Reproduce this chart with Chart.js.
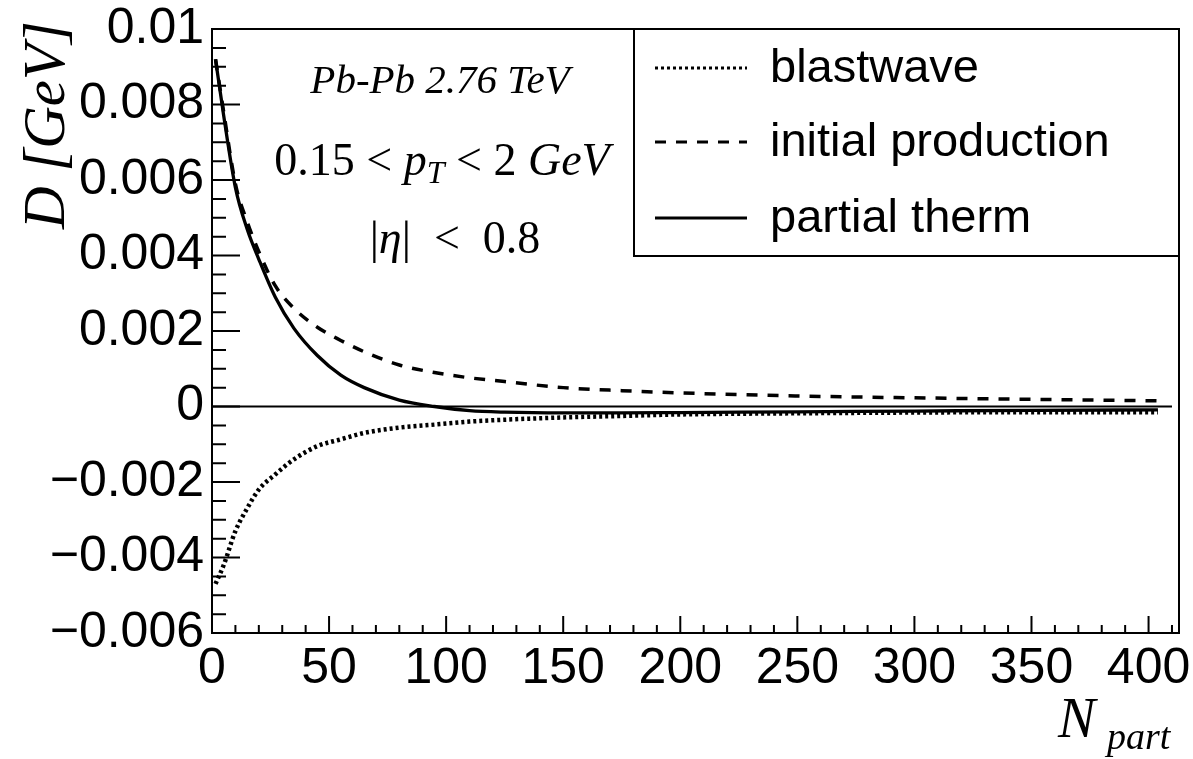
<!DOCTYPE html>
<html>
<head>
<meta charset="utf-8">
<script src="https://cdn.jsdelivr.net/npm/chart.js@4.4.1/dist/chart.umd.min.js"></script>
<style>
  html, body { margin: 0; padding: 0; background: #fff; }
</style>
</head>
<body>
<canvas id="chart" width="1193" height="759"></canvas>
<script>
// values
const npart = [1.5, 5, 10, 15, 20, 27, 35, 45, 55, 65, 80, 95, 110, 125, 150, 175, 200, 250, 300, 350, 404]
const blastwave = [-0.0047, -0.0042, -0.0033, -0.0027, -0.0022, -0.0018, -0.0014, -0.00105, -0.00087, -0.0007, -0.00056, -0.00048, -0.0004, -0.00035, -0.00029, -0.00025, -0.00021, -0.00018, -0.00016, -0.00015, -0.00015]
const initialProduction = [0.0092, 0.0078, 0.0059, 0.0049, 0.0041, 0.0032, 0.0026, 0.0021, 0.00175, 0.00145, 0.0011, 0.0009, 0.00076, 0.00066, 0.0005, 0.00042, 0.00036, 0.00028, 0.00023, 0.00019, 0.00015]
const partialTherm = [0.0092, 0.0077, 0.0058, 0.0047, 0.0039, 0.0029, 0.00207, 0.00135, 0.00083, 0.0005, 0.00017, 0.0, -0.00011, -0.00015, -0.00017, -0.00017, -0.00016, -0.00014, -0.00012, -0.0001, -0.00009]
const zeroLineX = [0, 410]
const zeroLineY = [0, 0]

const xTicks = [0, 50, 100, 150, 200, 250, 300, 350, 400]
const yTicks = [-0.006, -0.004, -0.002, 0, 0.002, 0.004, 0.006, 0.008, 0.01]
const legendLabels = ['blastwave', 'initial production', 'partial therm']

const toPoints = (xs, ys) => xs.map((x, i) => ({ x: x, y: ys[i] }))

// ROOT style: frame on all sides, ticks pointing inwards, legend box, latex texts
const rootDecor = {
  id: 'rootDecor',
  afterDatasetsDraw(chart) {
    const { ctx, chartArea: a, scales: { x, y } } = chart
    ctx.save()
    ctx.strokeStyle = '#000'
    ctx.fillStyle = '#000'
    ctx.lineWidth = 2
    ctx.strokeRect(a.left, a.top, a.right - a.left, a.bottom - a.top)

    ctx.beginPath()
    for (let v = 0; v <= 410; v += 10) {
      const px = x.getPixelForValue(v)
      const len = v % 50 === 0 ? 17 : 8
      ctx.moveTo(px, a.bottom)
      ctx.lineTo(px, a.bottom - len)
    }
    for (let i = -12; i <= 20; i++) {
      const py = y.getPixelForValue(i * 0.0005)
      const len = i % 4 === 0 ? 28 : 14
      ctx.moveTo(a.left, py)
      ctx.lineTo(a.left + len, py)
    }
    ctx.stroke()

    // legend
    const lx = 634, ly = a.top, lw = a.right - 634, lh = 227
    ctx.fillStyle = '#fff'
    ctx.fillRect(lx, ly, lw, lh)
    ctx.strokeRect(lx, ly, lw, lh)
    const rows = [68, 142, 218]
    const sets = chart.data.datasets.slice(1)
    ctx.font = '47px "Liberation Sans", Arial, sans-serif'
    ctx.textBaseline = 'middle'
    ctx.textAlign = 'left'
    sets.forEach((ds, i) => {
      ctx.save()
      ctx.lineWidth = ds.legendWidth
      ctx.setLineDash(ds.borderDash || [])
      ctx.beginPath()
      ctx.moveTo(655, rows[i])
      ctx.lineTo(747, rows[i])
      ctx.stroke()
      ctx.restore()
      ctx.fillStyle = '#000'
      ctx.fillText(ds.label, 770, rows[i] + 1)
    })

    // annotations
    ctx.fillStyle = '#000'
    ctx.textBaseline = 'alphabetic'
    ctx.textAlign = 'center'
    ctx.font = 'italic 41px "Liberation Serif", "Times New Roman", serif'
    ctx.fillText('Pb-Pb 2.76 TeV', 440, 93)

    const serif = '"Liberation Serif", "Times New Roman", serif'
    const drawPieces = (pieces, cx, base) => {
      let w = 0
      pieces.forEach(p => { ctx.font = p.f; w += ctx.measureText(p.t).width })
      let px = cx - w / 2
      ctx.textAlign = 'left'
      pieces.forEach(p => {
        ctx.font = p.f
        ctx.fillText(p.t, px, base + (p.dy || 0))
        px += ctx.measureText(p.t).width
      })
    }
    drawPieces([
      { t: '0.15 < ', f: '46px ' + serif },
      { t: 'p', f: 'italic 46px ' + serif },
      { t: 'T', f: 'italic 32px ' + serif, dy: 8 },
      { t: ' < 2 ', f: '46px ' + serif },
      { t: 'GeV', f: 'italic 46px ' + serif }
    ], 442, 175)
    drawPieces([
      { t: '|', f: '46px ' + serif },
      { t: '\u03b7', f: 'italic 46px ' + serif },
      { t: '|  <  0.8', f: '46px ' + serif }
    ], 455, 253)

    // axis titles
    ctx.textAlign = 'left'
    ctx.font = 'italic 56px ' + serif
    ctx.fillText('N', 1058, 737)
    ctx.font = 'italic 38px ' + serif
    ctx.fillText('part', 1107, 749)

    ctx.translate(64, 125)
    ctx.rotate(-Math.PI / 2)
    ctx.textAlign = 'center'
    ctx.font = 'italic 59px ' + serif
    ctx.fillText('D [GeV]', 0, 0)
    ctx.restore()
  }
}

const tickFont = { family: '"Liberation Sans", Arial, sans-serif', size: 50, lineHeight: 1 }

new Chart(document.getElementById('chart'), {
  type: 'line',
  data: {
    datasets: [
      { label: 'zero', data: toPoints(zeroLineX, zeroLineY), borderColor: '#000', borderWidth: 2, pointRadius: 0, tension: 0 },
      { label: legendLabels[0], data: toPoints(npart, blastwave), borderColor: '#000', borderWidth: 4.5, borderDash: [3, 3], legendWidth: 3, pointRadius: 0, cubicInterpolationMode: 'monotone' },
      { label: legendLabels[1], data: toPoints(npart, initialProduction), borderColor: '#000', borderWidth: 3.5, borderDash: [11, 10], legendWidth: 3, pointRadius: 0, cubicInterpolationMode: 'monotone' },
      { label: legendLabels[2], data: toPoints(npart, partialTherm), borderColor: '#000', borderWidth: 3.3, legendWidth: 3, pointRadius: 0, cubicInterpolationMode: 'monotone' }
    ]
  },
  options: {
    responsive: false,
    animation: false,
    devicePixelRatio: 1,
    layout: { padding: { top: 29, right: 14, left: 0, bottom: 0 } },
    plugins: { legend: { display: false }, tooltip: { enabled: false } },
    scales: {
      x: {
        type: 'linear', min: 0, max: 413,
        afterBuildTicks: s => { s.ticks = xTicks.map(v => ({ value: v })) },
        afterFit: s => { s.height = 126; s.paddingLeft = 0; s.paddingRight = 0 },
        grid: { display: false, drawTicks: false },
        border: { display: false },
        ticks: { font: tickFont, color: '#000', padding: 11, autoSkip: false, maxRotation: 0 }
      },
      y: {
        type: 'linear', min: -0.006, max: 0.01,
        afterBuildTicks: s => { s.ticks = yTicks.map(v => ({ value: v })) },
        afterFit: s => { s.width = 212; s.paddingTop = 0; s.paddingBottom = 0 },
        grid: { display: false, drawTicks: false },
        border: { display: false },
        ticks: {
          font: tickFont, color: '#000', padding: 8, autoSkip: false,
          callback: v => {
            const r = Math.round(v * 1000) / 1000
            return r === 0 ? '0' : (r < 0 ? '\u2212' : '') + String(Math.abs(r))
          }
        }
      }
    }
  },
  plugins: [rootDecor]
})
</script>
</body>
</html>
